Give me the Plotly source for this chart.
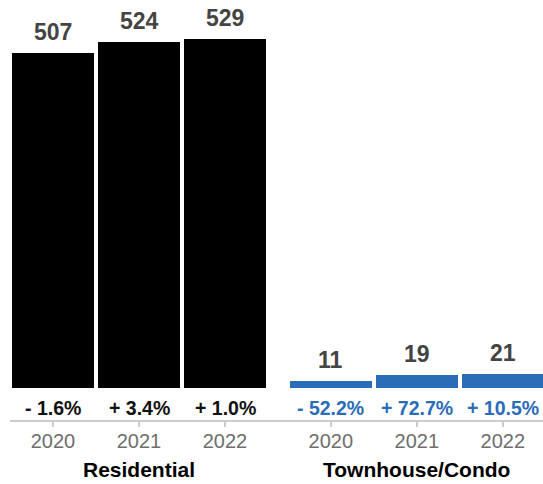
import plotly.graph_objects as go

groups = ["Residential", "Townhouse/Condo"]
years = ["2020", "2021", "2022"]
residential = [507, 524, 529]
townhouse = [11, 19, 21]
res_change = ["- 1.6%", "+ 3.4%", "+ 1.0%"]
th_change = ["- 52.2%", "+ 72.7%", "+ 10.5%"]

res_pos = [0, 1, 2]
th_pos = [3.23, 4.23, 5.23]

BLUE = "#2b6cb9"
FONT = "Liberation Sans, Arial, Helvetica, sans-serif"

fig = go.Figure()
fig.add_trace(go.Bar(x=res_pos, y=residential, width=0.953, marker=dict(color="#000000", line=dict(width=0)),
                     hoverinfo="skip"))
fig.add_trace(go.Bar(x=th_pos, y=townhouse, width=0.953, marker=dict(color=BLUE, line=dict(width=0)),
                     hoverinfo="skip"))

annotations = []
for p, v in zip(res_pos + th_pos, residential + townhouse):
    annotations.append(dict(x=p, y=v, xref="x", yref="y", text="<b>%d</b>" % v, showarrow=False,
                            yanchor="bottom", yshift=6,
                            font=dict(family=FONT, size=23, color="#444444")))
for p, t in zip(res_pos, res_change):
    annotations.append(dict(x=p, y=-31, xref="x", yref="y", text="<b>%s</b>" % t, showarrow=False,
                            font=dict(family=FONT, size=19.5, color="#111111")))
for p, t in zip(th_pos, th_change):
    annotations.append(dict(x=p, y=-31, xref="x", yref="y", text="<b>%s</b>" % t, showarrow=False,
                            font=dict(family=FONT, size=19.5, color=BLUE)))
for p, g in zip([res_pos[1], th_pos[1]], groups):
    annotations.append(dict(x=p, y=-0.119, xref="x", yref="paper", text="<b>%s</b>" % g, showarrow=False,
                            yanchor="middle", font=dict(family=FONT, size=21, color="#000000")))

fig.update_layout(
    width=543, height=484,
    margin=dict(l=0, r=0, t=0, b=64),
    plot_bgcolor="white", paper_bgcolor="white",
    showlegend=False, bargap=0,
    annotations=annotations,
    font=dict(family=FONT),
)
fig.update_xaxes(domain=[10 / 543, 1], range=[-0.5, -0.5 + 533 / 86], tickvals=res_pos + th_pos,
                 ticktext=years + years,
                 showgrid=False, zeroline=False, showline=True, linecolor="#cccccc", linewidth=2,
                 ticks="outside", ticklen=5, tickcolor="#cccccc", tickwidth=2,
                 ticklabelstandoff=-3,
                 tickfont=dict(family=FONT, size=20, color="#6e6e6e"))
fig.update_yaxes(range=[-48.5, 588], visible=False, showgrid=False, zeroline=False)

fig.write_html("out.html")
